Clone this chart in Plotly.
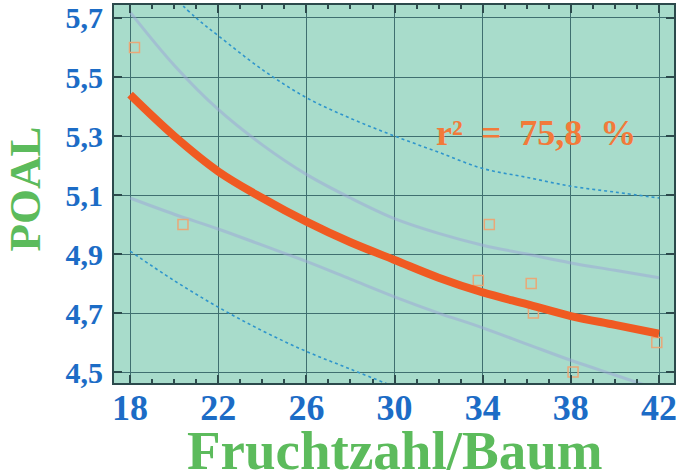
import plotly.graph_objects as go

# Observed data points
obs_x = [18.2, 20.4, 33.8, 34.3, 36.2, 36.3, 38.1, 41.9]
obs_y = [5.60, 5.00, 4.81, 5.00, 4.80, 4.70, 4.50, 4.60]

# Curve grid
curve_x = [18, 20, 22, 24, 26, 28, 30, 32, 34, 36, 38, 40, 42]
fit_y = [5.44, 5.30, 5.18, 5.09, 5.01, 4.94, 4.88, 4.82, 4.77, 4.73, 4.69, 4.66, 4.63]
inner_up_y = [5.72, 5.54, 5.39, 5.27, 5.17, 5.09, 5.02, 4.97, 4.93, 4.90, 4.87, 4.845, 4.82]
inner_lo_y = [5.09, 5.035, 4.985, 4.93, 4.875, 4.815, 4.755, 4.70, 4.65, 4.595, 4.54, 4.49, 4.44]

outer_up_x = [20, 21, 22, 24, 26, 28, 30, 32, 34, 36, 38, 40, 42]
outer_up_y = [5.77, 5.70, 5.64, 5.525, 5.43, 5.36, 5.30, 5.245, 5.19, 5.16, 5.13, 5.11, 5.09]
outer_lo_x = [18, 20, 22, 24, 26, 28, 30]
outer_lo_y = [4.91, 4.81, 4.72, 4.64, 4.57, 4.51, 4.45]

x_ticks = [18, 22, 26, 30, 34, 38, 42]
y_ticks = [4.5, 4.7, 4.9, 5.1, 5.3, 5.5, 5.7]
y_ticklabels = ["4,5", "4,7", "4,9", "5,1", "5,3", "5,5", "5,7"]

SERIF = "Liberation Serif, Times New Roman, serif"

fig = go.Figure()

fig.add_trace(go.Scatter(x=outer_up_x, y=outer_up_y, mode="lines", line_shape="spline",
                         line=dict(color="#2f95cc", width=1.6, dash="dot"), hoverinfo="skip"))
fig.add_trace(go.Scatter(x=outer_lo_x, y=outer_lo_y, mode="lines", line_shape="spline",
                         line=dict(color="#2f95cc", width=1.6, dash="dot"), hoverinfo="skip"))
fig.add_trace(go.Scatter(x=curve_x, y=inner_up_y, mode="lines", line_shape="spline",
                         line=dict(color="#9ea6d8", width=3), opacity=0.5, hoverinfo="skip"))
fig.add_trace(go.Scatter(x=curve_x, y=inner_lo_y, mode="lines", line_shape="spline",
                         line=dict(color="#9ea6d8", width=3), opacity=0.5, hoverinfo="skip"))
fig.add_trace(go.Scatter(x=obs_x, y=obs_y, mode="markers", cliponaxis=False,
                         marker=dict(symbol="square-open", size=10, color="#e9a878",
                                     line=dict(width=1.5, color="#e9a878"))))
fig.add_trace(go.Scatter(x=curve_x, y=fit_y, mode="lines", line_shape="spline",
                         line=dict(color="#f05a22", width=8)))

fig.add_annotation(x=36.4, y=5.31, xref="x", yref="y", text="<b>r²  =  75,8  %</b>",
                   showarrow=False, font=dict(family=SERIF, size=36, color="#f27a3a"))

fig.add_annotation(x=0.502, y=-0.178, xref="paper", yref="paper", text="<b>Fruchtzahl/Baum</b>",
                   showarrow=False, font=dict(family=SERIF, size=55, color="#5cbb5c"),
                   xanchor="center", yanchor="middle")
fig.add_annotation(x=-0.158, y=0.513, xref="paper", yref="paper", text="<b>POAL</b>",
                   showarrow=False, textangle=-90, font=dict(family=SERIF, size=45, color="#5cbb5c"),
                   xanchor="center", yanchor="middle")

fig.update_layout(
    width=676, height=473,
    margin=dict(l=114, r=2, t=5, b=90, autoexpand=False),
    paper_bgcolor="white",
    plot_bgcolor="#a8dccb",
    showlegend=False,
)
fig.update_xaxes(
    automargin=False,
    range=[17.27, 42.68], tickvals=x_ticks, ticktext=[str(v) for v in x_ticks],
    showgrid=True, gridcolor="#3f6f70", gridwidth=1, zeroline=False,
    showline=True, linecolor="#2c4a4c", linewidth=2, mirror="ticks",
    ticks="inside", ticklen=8, tickcolor="#2c4a4c", tickwidth=1.5,
    minor=dict(ticks="inside", dtick=1, ticklen=4, tickcolor="#2c4a4c", showgrid=False),
    tickfont=dict(family=SERIF, size=36, color="#1c6cc6", weight="bold"),
    ticklabelstandoff=-8, ticklabeloverflow="allow",
)
fig.update_yaxes(
    automargin=False,
    range=[4.463, 5.744], tickvals=y_ticks, ticktext=y_ticklabels,
    showgrid=True, gridcolor="#3f6f70", gridwidth=1, zeroline=False,
    showline=True, linecolor="#2c4a4c", linewidth=2, mirror="ticks",
    ticks="inside", ticklen=8, tickcolor="#2c4a4c", tickwidth=1.5,
    tickfont=dict(family=SERIF, size=30, color="#1c6cc6", weight="bold"),
    ticklabelstandoff=3, ticklabeloverflow="allow",
)

fig.write_html("out.html", config={"displayModeBar": False},
               post_script="document.body.style.margin='0';")
